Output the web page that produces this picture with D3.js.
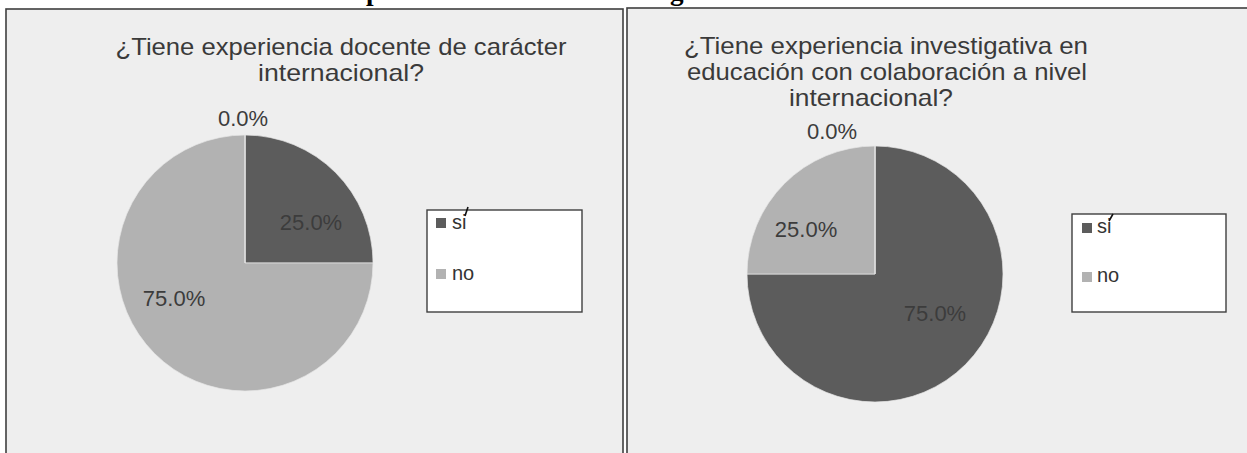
<!DOCTYPE html>
<html><head><meta charset="utf-8">
<script src="https://cdn.jsdelivr.net/npm/d3@7/dist/d3.min.js"></script>
<style>html,body{margin:0;padding:0;background:#fff;}svg{display:block;}</style>
</head><body>
<svg id="c" width="1247" height="453"></svg>
<script>
// ---- data ----
const categories = ["si", "no", ""];
const docenteValues = [25, 75, 0];
const investigaValues = [75, 25, 0];
const titleDocente = ["¿Tiene experiencia docente de carácter", "internacional?"];
const titleInvestiga = ["¿Tiene experiencia investigativa en", "educación con colaboración a nivel", "internacional?"];
const captionText = "Experiencia docente e investigativa internacional";

// ---- layout ----
const colors = ["#5c5c5c", "#b2b2b2", "#888888"];
const panels = [
  {x: 6, y: 9, w: 617, h: 460, values: docenteValues, title: titleDocente,
   titleX: [341, 341], titleY: [55, 81], titleW: [451, 166],
   cx: 245, cy: 263, r: 128,
   labels: [[66, -41], [-71, 35], [-2, -145]],
   legend: {x: 427, y: 210, w: 155, h: 102, items: [[9, 8, 25, 19], [9, 59, 25, 70]], acc: [41, -3, 38, 6]}},
  {x: 627, y: 8, w: 640, h: 460, values: investigaValues, title: titleInvestiga,
   titleX: [886, 887, 871], titleY: [54, 80, 106], titleW: [404, 400, 164],
   cx: 875, cy: 274, r: 128,
   labels: [[60, 39], [-69, -45], [-43, -143]],
   legend: {x: 1072, y: 214, w: 154, h: 98, items: [[10, 9, 25, 19], [10, 58, 25, 68]], acc: [41, 0, 37, 7]}}
];

const svg = d3.select("#c");

// caption line cut at the top edge (only descenders visible, as in the reference)
const cap = svg.append("text")
  .attr("font-family", "Liberation Serif, Times New Roman, serif")
  .attr("font-weight", "bold").attr("font-size", 22)
  .attr("fill", "#000").attr("y", 0).attr("x", 0).text(captionText);
(function fitCaption(){
  const node = cap.node();
  const pi = captionText.indexOf("p"), gi = captionText.indexOf("g");
  const p0 = node.getStartPositionOfChar(pi).x, g0 = node.getStartPositionOfChar(gi).x;
  const s = (670 - 366) / (g0 - p0);
  cap.attr("font-size", 22 * s);
  const p1 = node.getStartPositionOfChar(pi).x;
  cap.attr("x", 366 - p1);
})();

const pie = d3.pie().sort(null).value(d => d).startAngle(0).endAngle(2 * Math.PI);

panels.forEach(P => {
  svg.append("rect").attr("x", P.x).attr("y", P.y).attr("width", P.w).attr("height", P.h)
    .attr("fill", "#eeeeee").attr("stroke", "#3f3f3f").attr("stroke-width", 1.6);

  const g = svg.append("g");
  g.selectAll("text.t").data(P.title).join("text")
    .attr("x", (d, i) => P.titleX[i]).attr("y", (d, i) => P.titleY[i])
    .attr("text-anchor", "middle")
    .attr("font-family", "Liberation Sans, Arial, sans-serif").attr("font-size", 24)
    .attr("textLength", (d, i) => P.titleW[i]).attr("lengthAdjust", "spacingAndGlyphs")
    .attr("fill", "#3a3a3a").text(d => d);

  const arcs = pie(P.values);
  const arc = d3.arc().innerRadius(0).outerRadius(P.r);
  const pg = g.append("g").attr("transform", `translate(${P.cx},${P.cy})`);
  pg.selectAll("path").data(arcs).join("path")
    .attr("d", arc).attr("fill", (d, i) => colors[i])
    .attr("stroke", "#e6e6e6").attr("stroke-width", 0.7);
  pg.selectAll("text").data(arcs).join("text")
    .attr("x", (d, i) => P.labels[i][0]).attr("y", (d, i) => P.labels[i][1])
    .attr("text-anchor", "middle").attr("dominant-baseline", "central")
    .attr("font-family", "Liberation Sans, Arial, sans-serif").attr("font-size", 22)
    .attr("fill", "#3c3c3c")
    .text(d => d3.format(".1%")(d.data / 100));

  const L = P.legend;
  const lg = g.append("g").attr("transform", `translate(${L.x},${L.y})`);
  lg.append("rect").attr("width", L.w).attr("height", L.h)
    .attr("fill", "#fff").attr("stroke", "#3f3f3f").attr("stroke-width", 1.4);
  const legendCats = categories.filter(c => c !== "");
  legendCats.forEach((c, i) => {
    const it = L.items[i];
    lg.append("rect").attr("x", it[0]).attr("y", it[1]).attr("width", 10).attr("height", 10)
      .attr("fill", colors[i]);
    lg.append("text").attr("x", it[2]).attr("y", it[3])
      .attr("font-family", "Liberation Sans, Arial, sans-serif").attr("font-size", 20)
      .attr("fill", "#333").text(c);
  });
  lg.append("line").attr("x1", L.acc[0]).attr("y1", L.acc[1]).attr("x2", L.acc[2]).attr("y2", L.acc[3])
    .attr("stroke", "#111").attr("stroke-width", 1.6);
});
</script>
</body></html>
